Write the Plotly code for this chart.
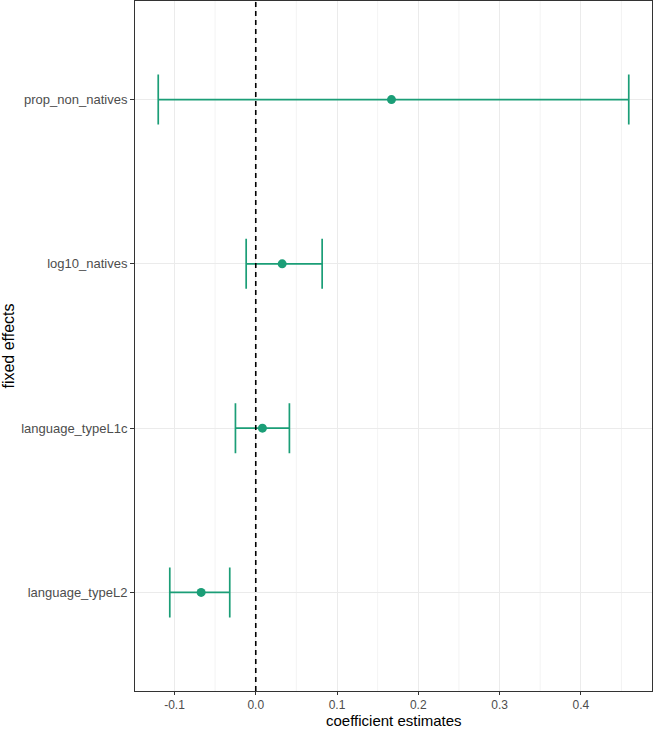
import plotly.graph_objects as go

terms = ["language_typeL2", "language_typeL1c", "log10_natives", "prop_non_natives"]
estimates = [-0.0672, 0.0082, 0.0325, 0.167]
ci_low = [-0.1058, -0.0250, -0.0118, -0.120]
ci_high = [-0.032, 0.0414, 0.0817, 0.459]
x_ticks = [-0.1, 0.0, 0.1, 0.2, 0.3, 0.4]
x_tick_labels = ["-0.1", "0.0", "0.1", "0.2", "0.3", "0.4"]

color = "#1b9e77"
ypos = list(range(1, len(terms) + 1))

fig = go.Figure()

# minor vertical grid
for v in [-0.15, -0.05, 0.05, 0.15, 0.25, 0.35, 0.45]:
    fig.add_shape(type="line", xref="x", yref="paper", x0=v, x1=v, y0=0, y1=1,
                  line=dict(color="#ebebeb", width=0.6), layer="below")

fig.add_trace(go.Scatter(
    x=estimates, y=ypos, mode="markers",
    marker=dict(color=color, size=9),
    error_x=dict(type="data", symmetric=False,
                 array=[h - e for h, e in zip(ci_high, estimates)],
                 arrayminus=[e - l for e, l in zip(estimates, ci_low)],
                 color=color, thickness=1.7, width=25),
    showlegend=False, hoverinfo="skip",
))

fig.add_shape(type="line", xref="x", yref="paper", x0=0, x1=0, y0=0, y1=1,
              line=dict(color="black", width=1.6, dash="5px,4px"))

fig.add_annotation(text="coefficient estimates", xref="paper", yref="paper",
                   x=0.5, y=0, yshift=-39, xanchor="center", yanchor="bottom",
                   showarrow=False, font=dict(size=15, color="black"),
                   borderpad=0)

fig.update_layout(
    width=659, height=730,
    margin=dict(l=135, r=7, t=1, b=39),
    plot_bgcolor="white", paper_bgcolor="white",
    font=dict(family="Liberation Sans, Arial, sans-serif"),
)
fig.update_xaxes(
    range=[-0.1486, 0.4876], tickvals=x_ticks, ticktext=x_tick_labels,
    showgrid=True, gridcolor="#ebebeb", gridwidth=1.1,
    zeroline=False, showline=True, linecolor="#333333", linewidth=1, mirror=True,
    ticks="outside", ticklen=3, tickcolor="#333333",
    tickfont=dict(size=12, color="#4d4d4d"),
)
fig.update_yaxes(
    range=[0.4, 4.6], tickvals=ypos, ticktext=terms,
    showgrid=True, gridcolor="#ebebeb", gridwidth=1.1,
    zeroline=False, showline=True, linecolor="#333333", linewidth=1, mirror=True,
    ticks="outside", ticklen=4, tickcolor="#333333",
    tickfont=dict(size=13, color="#4d4d4d"),
    title=dict(text="fixed effects", font=dict(size=16, color="black"), standoff=4),
)

fig.write_html("out.html")
